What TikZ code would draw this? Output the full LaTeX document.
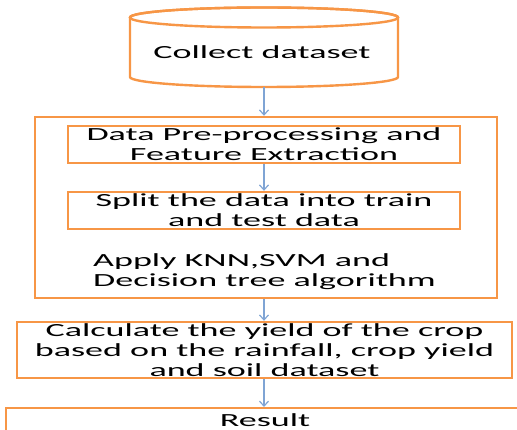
\documentclass[tikz,border=0pt]{standalone}
\usepackage{fontspec}
\setmainfont{Carlito}[FakeStretch=1.95]
\usetikzlibrary{arrows.meta}
\definecolor{boxorange}{HTML}{F79646}
\definecolor{arrblue}{HTML}{7FA4D4}
\begin{document}
\begin{tikzpicture}[x=1pt,y=-1pt,
  every node/.style={font=\fontsize{18.5}{20}\selectfont, inner sep=0pt},
  obox/.style={draw=boxorange, line width=2.4pt, fill=white, align=center},
  arr/.style={draw=arrblue, line width=1.2pt, -{Straight Barb[length=5pt,width=9pt]}}]
\useasboundingbox (0,0) rectangle (517,430);
% cylinder
\draw[boxorange, line width=2.4pt, fill=white]
  (130,17.5) -- (130,77) arc[start angle=180, end angle=360, x radius=134, y radius=-10]
  -- (398,17.5) arc[start angle=0, end angle=180, x radius=134, y radius=-10] -- cycle;
\draw[boxorange, line width=2.4pt] (264,17.5) ellipse[x radius=134, y radius=10];
\node (cyl) at (262,52) {Collect dataset};
\coordinate (cylbot) at (264,87);
% big box
\node[obox, minimum width=462pt, minimum height=181pt] (big) at (266,207.5) {};
\node[obox, minimum width=392pt, minimum height=37pt] (pre) at (264,144.5) {Data Pre-processing and\\Feature Extraction};
\node[obox, minimum width=392pt, minimum height=37pt] (split) at (264,210.5) {Split the data into train\\and test data};
\node[align=left, anchor=west] (apply) at (93,272) {Apply KNN,SVM and\\Decision tree algorithm};
\node[obox, minimum width=495pt, minimum height=56pt] (calc) at (264.5,350) {Calculate the yield of the crop\\based on the rainfall, crop yield\\and soil dataset};
\node[obox, minimum width=525pt, minimum height=44pt, anchor=north west] (res) at (5,407) {};
\node (restext) at (265,420) {Result};
\draw[arr] (cylbot) -- (big.north -| cylbot);
\draw[arr] (pre.south -| cylbot) -- (split.north -| cylbot);
\draw[arr] (big.south -| cylbot) -- (calc.north -| cylbot);
\draw[arr] (calc.south -| cylbot) -- (res.north -| cylbot);
\end{tikzpicture}
\end{document}
